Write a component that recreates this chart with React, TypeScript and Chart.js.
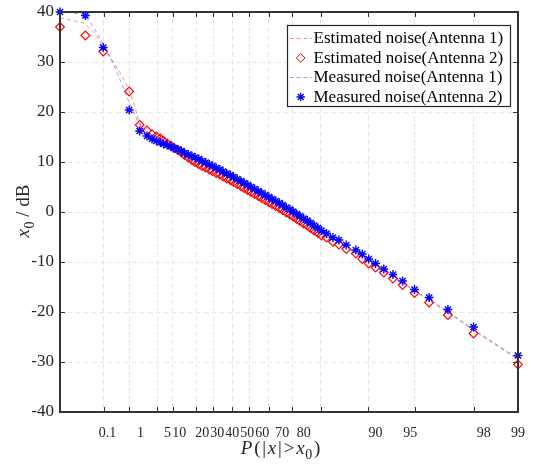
import React, { useEffect, useRef } from 'react';
import { Chart, registerables } from 'chart.js';

Chart.register(...registerables);

// x axis is a custom (non-linear probability) axis, expressed in 0..100 axis units
const GRID_POS = [9.6, 15.07, 21.18, 24.67, 29.78, 33.45, 37.64, 41.27, 45.63, 50.74, 56.92, 67.25, 77.45, 90.39];
const LABEL_POS = [10.37, 17.55, 23.45, 26.03, 31.05, 34.32, 37.6, 40.87, 44.15, 48.52, 53.2, 68.9, 76.5, 92.5, 100];
const X_LABELS = ['0.1', '1', '5', '10', '20', '30', '40', '50', '60', '70', '80', '90', '95', '98', '99'];
const Y_MIN = -40;
const Y_MAX = 40;
const Y_STEP = 10;

const SERIES_NAMES = [
  'Estimated noise(Antenna 1)',
  'Estimated noise(Antenna 2)',
  'Measured noise(Antenna 1)',
  'Measured noise(Antenna 2)',
];

// marker series share x positions
const MARKER_X = [
  0, 5.55, 9.43, 15.11, 17.4, 19.0, 20.09, 21.05,
  21.9, 22.6, 23.4, 24.2, 24.9, 25.7, 26.5, 27.2, 28.0, 28.8,
  29.5, 30.3, 31.0, 31.8, 32.6, 33.3, 34.1, 34.9, 35.6, 36.4,
  37.2, 37.9, 38.7, 39.5, 40.2, 41.0, 41.7, 42.5, 43.3, 44.0,
  44.8, 45.6, 46.3, 47.1, 47.9, 48.6, 49.4, 50.2, 50.9, 51.7,
  52.4, 53.2, 54.0, 54.7, 55.5, 56.3, 57.1, 58.2,
  59.6, 60.9, 62.5, 64.6, 66.0, 67.4, 68.9, 70.7, 72.7, 74.8, 77.4, 80.6, 84.7, 90.3, 100,
];

// Estimated noise (Antenna 2) - red diamonds
const EST2_Y = [
  37.0, 35.3, 32.1, 24.1, 17.4, 16.3, 15.55, 15.1,
  14.7, 14.2, 13.7, 13.3, 12.8, 12.4, 11.9, 11.4, 10.9, 10.4,
  10.0, 9.6, 9.2, 8.9, 8.5, 8.2, 7.8, 7.5, 7.1, 6.7,
  6.4, 6.0, 5.6, 5.2, 4.8, 4.4, 4.0, 3.6, 3.2, 2.8,
  2.4, 2.0, 1.6, 1.2, 0.8, 0.4, -0.1, -0.5, -0.9, -1.4,
  -1.8, -2.3, -2.7, -3.2, -3.7, -4.2, -4.7, -5.1,
  -5.95, -6.5, -7.4, -8.3, -9.4, -10.3, -11.1, -12.1, -13.3, -14.6, -16.2, -18.1, -20.6, -24.3, -30.5,
];

// Measured noise (Antenna 2) - blue asterisks
const MEAS2_Y = [
  40.0, 39.3, 32.9, 20.4, 16.2, 15.2, 14.6, 14.2,
  13.9, 13.6, 13.4, 13.1, 12.8, 12.5, 12.2, 11.8, 11.5, 11.2,
  10.9, 10.6, 10.2, 9.9, 9.5, 9.2, 8.8, 8.5, 8.1, 7.7,
  7.4, 7.0, 6.6, 6.2, 5.8, 5.4, 5.0, 4.6, 4.2, 3.8,
  3.4, 3.0, 2.6, 2.2, 1.8, 1.4, 0.9, 0.5, 0.1, -0.4,
  -0.8, -1.3, -1.7, -2.2, -2.7, -3.2, -3.7, -4.3,
  -5.1, -5.6, -6.6, -7.6, -8.4, -9.4, -10.3, -11.4, -12.5, -13.8, -15.5, -17.1, -19.5, -23.0, -28.7,
];

// Estimated noise (Antenna 1) - red dashed line
const EST1_X = [0, 2.84, 5.4, 7.58, 9.39, 11.57, 13.41, 14.85, 16.1, 17.04, 17.76, 19.0, 21.05, 24.9, 28.8, 32.6, 36.4, 40.2, 44.0, 47.9, 51.7, 55.5, 58.2, 62.5, 66.0, 70.7, 74.8, 80.6, 84.7, 90.3, 100];
const EST1_Y = [38.8, 38.3, 37.7, 35.8, 33.1, 30.1, 27.4, 24.8, 21.8, 18.8, 17.1, 16.0, 14.8, 12.6, 10.7, 9.0, 7.2, 5.3, 3.3, 1.3, -0.9, -3.2, -4.8, -7.1, -9.0, -11.8, -14.3, -17.7, -20.1, -23.7, -29.5];

// Measured noise (Antenna 1) - blue dashed line
const MEAS1_X = [0, 2.84, 5.4, 7.21, 9.39, 11.57, 13.41, 14.85, 16.1, 17.04, 18.12, 19.0, 21.05, 24.9, 28.8, 32.6, 36.4, 40.2, 44.0, 47.9, 51.7, 55.5, 58.2, 62.5, 66.0, 70.7, 74.8, 80.6, 84.7, 90.3, 100];
const MEAS1_Y = [40.0, 39.8, 39.5, 37.1, 33.8, 29.8, 25.8, 22.4, 19.8, 18.1, 16.4, 15.5, 14.4, 12.7, 10.8, 9.1, 7.3, 5.4, 3.4, 1.4, -0.8, -3.1, -4.6, -6.9, -8.8, -11.6, -14.1, -17.5, -19.9, -23.5, -29.3];

const SERIF = "'Liberation Serif', 'Times New Roman', serif";
const AXIS_COLOR = '#262626';
const FRAME_COLOR = '#333333';
const GRID_COLOR = '#e6e6e6';
const RED = '#ff0000';
const BLUE = '#0000ff';
const RED_LINE = 'rgba(255,0,0,0.45)';
const BLUE_LINE = 'rgba(0,0,255,0.4)';

const pts = (xs: number[], ys: number[]) => xs.map((x, i) => ({ x, y: ys[i] }));

function drawDiamond(ctx: CanvasRenderingContext2D, x: number, y: number, r: number) {
  ctx.beginPath();
  ctx.moveTo(x, y - r);
  ctx.lineTo(x + r, y);
  ctx.lineTo(x, y + r);
  ctx.lineTo(x - r, y);
  ctx.closePath();
  ctx.stroke();
}

function drawStar(ctx: CanvasRenderingContext2D, x: number, y: number, r: number) {
  const d = r * Math.SQRT1_2;
  ctx.beginPath();
  ctx.moveTo(x - r, y); ctx.lineTo(x + r, y);
  ctx.moveTo(x, y - r); ctx.lineTo(x, y + r);
  ctx.moveTo(x - d, y - d); ctx.lineTo(x + d, y + d);
  ctx.moveTo(x - d, y + d); ctx.lineTo(x + d, y - d);
  ctx.stroke();
}

function drawPieces(ctx: CanvasRenderingContext2D, pieces: { t: string; font: string; dy: number; gap?: number }[], cx: number, by: number) {
  let total = 0;
  const widths = pieces.map((p) => {
    ctx.font = p.font;
    const w = ctx.measureText(p.t).width + (p.gap || 0);
    total += w;
    return w;
  });
  let x = cx - total / 2;
  pieces.forEach((p, i) => {
    ctx.font = p.font;
    ctx.fillText(p.t, x, by + p.dy);
    x += widths[i];
  });
}

function drawFrame(chart: any) {
  const { ctx, chartArea: a, scales } = chart;
  const L = Math.round(a.left);
  const R = Math.round(a.right);
  const T = Math.round(a.top);
  const B = Math.round(a.bottom);
  ctx.save();
  ctx.fillStyle = FRAME_COLOR;
  const tl = 5;
  for (const t of scales.x2.ticks) {
    const px = Math.round(scales.x2.getPixelForValue(t.value));
    ctx.fillRect(px, B - tl, 1, tl);
    ctx.fillRect(px, T, 1, tl);
  }
  for (const t of scales.y.ticks) {
    const py = Math.round(scales.y.getPixelForValue(t.value));
    ctx.fillRect(L, py, tl, 1);
    ctx.fillRect(R - tl, py, tl, 1);
  }
  // box (2px so it survives resampling)
  ctx.fillRect(L - 1, T - 1, R - L + 2, 2);
  ctx.fillRect(L - 1, B - 1, R - L + 2, 2);
  ctx.fillRect(L - 1, T - 1, 2, B - T + 2);
  ctx.fillRect(R - 1, T - 1, 2, B - T + 2);
  ctx.restore();
}

const framePlugin = {
  id: 'frame',
  afterDatasetsDraw(chart: any) {
    drawFrame(chart);
  },
  afterDraw(chart: any) {
    const { ctx, chartArea: a } = chart;
    ctx.save();
    ctx.fillStyle = AXIS_COLOR;
    ctx.textBaseline = 'alphabetic';
    ctx.textAlign = 'left';

    // x-axis title: P(|x|>x0)
    const f = 19;
    const it = `italic ${f}px ${SERIF}`;
    const rg = `${f}px ${SERIF}`;
    const sb = `${Math.round(f * 0.72)}px ${SERIF}`;
    const g = 1.8;
    drawPieces(ctx, [
      { t: 'P', font: it, dy: 0, gap: g },
      { t: '(', font: rg, dy: 0, gap: g },
      { t: '|', font: rg, dy: 0, gap: g },
      { t: 'x', font: it, dy: 0, gap: g },
      { t: '|', font: rg, dy: 0, gap: g },
      { t: '>', font: rg, dy: 0, gap: g },
      { t: 'x', font: it, dy: 0, gap: 0.5 },
      { t: '0', font: sb, dy: 5, gap: g },
      { t: ')', font: rg, dy: 0 },
    ], (a.left + a.right) / 2 - 8.5, a.bottom + 41.5);

    // y-axis title: x0 / dB
    ctx.save();
    ctx.translate(28.5, (a.top + a.bottom) / 2 - 1);
    ctx.rotate(-Math.PI / 2);
    drawPieces(ctx, [
      { t: 'x', font: it, dy: 0, gap: 0.5 },
      { t: '0', font: sb, dy: 5 },
      { t: ' / dB', font: rg, dy: 0 },
    ], 0, 0);
    ctx.restore();

    // legend box
    const lx = Math.round(a.right) - 230.5;
    const ly = Math.round(a.top) + 13.5;
    const lw = 223;
    const lh = 81;
    ctx.fillStyle = '#ffffff';
    ctx.fillRect(lx, ly, lw, lh);
    ctx.strokeStyle = AXIS_COLOR;
    ctx.lineWidth = 1.2;
    ctx.strokeRect(lx, ly, lw, lh);
    const styles = [
      { kind: 'line', color: RED_LINE },
      { kind: 'diamond', color: RED },
      { kind: 'line', color: BLUE_LINE },
      { kind: 'star', color: BLUE },
    ];
    styles.forEach((s, i) => {
      const ry = ly + 13 + i * 19.5;
      const mx = lx + 13.2;
      ctx.save();
      ctx.strokeStyle = s.color;
      ctx.lineWidth = 1;
      if (s.kind === 'line') {
        ctx.setLineDash([4, 3]);
        ctx.beginPath();
        ctx.moveTo(lx + 2, ry);
        ctx.lineTo(lx + 24.5, ry);
        ctx.stroke();
      } else if (s.kind === 'diamond') {
        drawDiamond(ctx, mx, ry, 4.3);
      } else {
        ctx.lineWidth = 1.3;
        drawStar(ctx, mx, ry, 4.2);
      }
      ctx.restore();
      ctx.fillStyle = '#000000';
      ctx.font = `17px ${SERIF}`;
      ctx.textBaseline = 'middle';
      ctx.fillText(SERIES_NAMES[i], lx + 26, ry + 0.5);
    });
    ctx.restore();
  },
};

export default function App() {
  const ref = useRef<HTMLCanvasElement | null>(null);

  useEffect(() => {
    if (!ref.current) return;
    const yTicks: number[] = [];
    for (let v = Y_MIN; v <= Y_MAX; v += Y_STEP) yTicks.push(v);

    const chart = new Chart(ref.current, {
      type: 'scatter',
      data: {
        datasets: [
          {
            label: SERIES_NAMES[0],
            data: pts(EST1_X, EST1_Y),
            showLine: true,
            borderColor: RED_LINE,
            borderDash: [4, 3],
            borderWidth: 1,
            pointRadius: 0,
            order: 3,
            clip: false,
          } as any,
          {
            label: SERIES_NAMES[1],
            data: pts(MARKER_X, EST2_Y),
            showLine: false,
            pointStyle: 'rectRot',
            pointRadius: 4.4,
            pointBorderWidth: 1.1,
            borderColor: RED,
            backgroundColor: 'rgba(0,0,0,0)',
            order: 2,
            clip: false,
          },
          {
            label: SERIES_NAMES[2],
            data: pts(MEAS1_X, MEAS1_Y),
            showLine: true,
            borderColor: BLUE_LINE,
            borderDash: [4, 3],
            borderWidth: 1,
            pointRadius: 0,
            order: 1,
            clip: false,
          },
          {
            label: SERIES_NAMES[3],
            data: pts(MARKER_X, MEAS2_Y),
            showLine: false,
            pointStyle: 'star',
            pointRadius: 4.4,
            pointBorderWidth: 1.4,
            borderColor: BLUE,
            backgroundColor: BLUE,
            order: 0,
            clip: false,
          },
        ],
      },
      options: {
        responsive: false,
        animation: false,
        events: [],
        layout: { padding: { top: 12, right: 26, left: 0, bottom: 0 } },
        plugins: { legend: { display: false }, tooltip: { enabled: false } },
        scales: {
          x: {
            type: 'linear',
            position: 'bottom',
            min: 0,
            max: 100,
            grid: { display: false },
            border: { display: false },
            afterBuildTicks: (s: any) => { s.ticks = LABEL_POS.map((v) => ({ value: v })); },
            afterFit: (s: any) => { s.height = 53; s.paddingLeft = 0; s.paddingRight = 0; },
            ticks: {
              autoSkip: false,
              maxRotation: 0,
              minRotation: 0,
              padding: 5,
              color: AXIS_COLOR,
              font: { family: SERIF, size: 14 },
              callback: (_v: any, i: number) => X_LABELS[i],
            },
          },
          x2: {
            type: 'linear',
            position: 'top',
            min: 0,
            max: 100,
            grid: { color: GRID_COLOR, drawTicks: false, lineWidth: 1 },
            border: { display: false, dash: [5, 3] },
            ticks: { display: false },
            afterBuildTicks: (s: any) => { s.ticks = GRID_POS.map((v) => ({ value: v })); },
            afterFit: (s: any) => { s.height = 0; s.paddingLeft = 0; s.paddingRight = 0; },
          },
          y: {
            type: 'linear',
            min: Y_MIN,
            max: Y_MAX,
            grid: { color: GRID_COLOR, drawTicks: false, lineWidth: 1 },
            border: { display: false, dash: [5, 3] },
            afterBuildTicks: (s: any) => { s.ticks = yTicks.map((v) => ({ value: v })); },
            afterFit: (s: any) => { s.width = 60; s.paddingTop = 0; s.paddingBottom = 0; },
            ticks: {
              padding: 6,
              color: AXIS_COLOR,
              font: { family: SERIF, size: 17 },
              callback: (v: any) => String(v),
            },
          },
        },
      },
      plugins: [framePlugin],
    });
    return () => chart.destroy();
  }, []);

  return (
    <div style={{ position: 'fixed', left: 0, top: 0, width: 544, height: 465, background: '#ffffff' }}>
      <canvas ref={ref} width={544} height={465} style={{ display: 'block' }} />
    </div>
  );
}
